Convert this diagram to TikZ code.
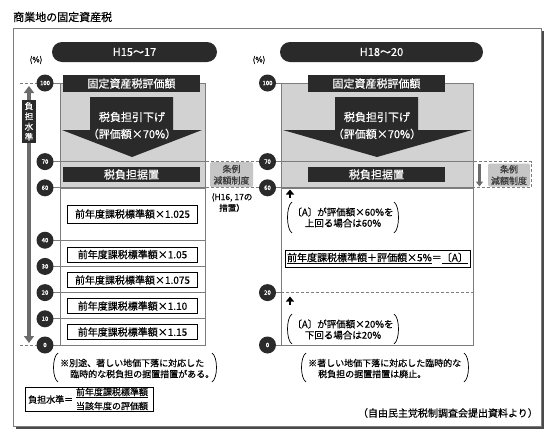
\documentclass[tikz,border=0pt]{standalone}
\usepackage{fontspec}
\setmainfont{Noto Sans CJK JP}[FakeBold=0.6]
\usetikzlibrary{arrows.meta}
\definecolor{dk}{HTML}{2A2A2A}
\definecolor{gf}{HTML}{D2D2D2}
\definecolor{fr}{HTML}{7C7C7C}
\definecolor{ag}{HTML}{6B6B6B}
\definecolor{tg}{HTML}{C6C6C6}
\definecolor{tt}{HTML}{3C3C3C}
\definecolor{sh}{HTML}{4A4A4A}
\newcommand{\jfs}[1]{\fontsize{#1}{#1}\selectfont}
\begin{document}
\begin{tikzpicture}[x=1pt,y=-1pt,
  hdr/.style={fill=dk,text=white,inner sep=0pt,minimum width=137pt,font=\jfs{11}},
  lvl/.style={circle,fill=dk,text=white,minimum size=17pt,inner sep=0pt,font=\jfs{6}},
  lvline/.style={draw=fr,line width=0.7pt},
  dline/.style={draw=fr,line width=0.7pt,dash pattern=on 3pt off 2pt},
  region/.style={draw=fr,line width=0.7pt,inner sep=0pt,anchor=north west},
  sbox/.style={draw=black,line width=0.7pt,fill=white,inner sep=0pt,minimum width=130pt,font=\jfs{10}},
  pill/.style={fill=dk,text=white,rounded corners=10pt,minimum height=20pt,inner sep=0pt,font=\jfs{11}},
  jrei/.style={fill=tg,text=tt,rounded corners=2pt,inner sep=0pt,align=center,font=\fontsize{9}{11.5}\selectfont,minimum width=42pt,minimum height=23pt},
  note/.style={inner sep=0pt,font=\jfs{9}},
  bnote/.style={inner sep=0pt,align=center,font=\fontsize{9.5}{11}\selectfont},
  paren/.style={line width=0.7pt},
  wtxt/.style={text=white,inner sep=0pt,font=\jfs{11}},
  uparrow/.style={line width=2.6pt,-{Triangle[width=8pt,length=5pt]}},
]
\useasboundingbox (0,0) rectangle (550,437);
\fill[white] (0,0) rectangle (550,437);

% frame
\fill[sh] (15.5,30.5) rectangle (543.5,428.5);
\draw[fr,fill=white,line width=0.8pt] (13,28) rectangle (541,426);

\node[anchor=west,inner sep=0pt,font=\jfs{11}] (title) at (13,17) {商業地の固定資産税};

\node[pill,minimum width=165pt] (p1) at (134.5,52) {H15～17};
\node[pill,minimum width=203pt] (p2) at (381.5,52) {H18～20};
\node[inner sep=0pt,font=\jfs{8}] (pc1) at (36,60) {(\%)};
\node[inner sep=0pt,font=\jfs{8}] (pc2) at (259,60) {(\%)};

% level coordinates
\foreach \v/\y in {100/83,70/161.6,60/187.8,40/240.2,30/266.4,20/292.6,10/318.8,0/345}
  \coordinate (ca\v) at (45,\y);
\foreach \v/\y in {100/83,70/161.6,60/187.8,20/292.6,0/345}
  \coordinate (cb\v) at (267.5,\y);

% regions
\node[region,fill=gf,minimum width=145pt,minimum height=104.8pt] (Lg) at (60,83) {};
\node[region,fill=white,minimum width=145pt,minimum height=157.2pt] (Lw) at (60,187.8) {};
\node[region,fill=gf,minimum width=192pt,minimum height=104.8pt] (Rg) at (281,83) {};
\node[region,fill=white,minimum width=192pt,minimum height=157.2pt] (Rw) at (281,187.8) {};

% level lines
\foreach \v in {100,70,60,40,30,20,10,0}
  \draw[lvline] (ca\v) -- (ca\v -| Lg.east);
\foreach \v in {100,70,60,0}
  \draw[lvline] (cb\v) -- (cb\v -| Rg.east);
\draw[lvline] (cb20) -- (cb20 -| Rw.west);
\draw[dline] (cb20 -| Rw.west) -- (cb20 -| Rw.east);

% dashed links between columns
\draw[dline] (ca70 -| Lg.east) -- (cb70);
\draw[dline] (ca60 -| Lg.east) -- (cb60);
\coordinate (dr1) at (531,161.6);
\coordinate (dr2) at (531,187.8);
\draw[dline] (cb70 -| Rg.east) -- (dr1) -- (dr2) -- (cb60 -| Rg.east);

% left level arrow
\coordinate (t1) at (20,83);
\coordinate (t2) at (20,345);
\draw[dline] (t1) -- (ca100);
\draw[dline] (t2) -- (ca0);
\coordinate (la1) at (29,86);
\coordinate (la2) at (29,343);
\draw[ag,line width=4.5pt,{Triangle[width=10pt,length=7pt]}-{Triangle[width=10pt,length=7pt]}] (la1) -- (la2);
\node[fill=dk,text=white,minimum width=14pt,minimum height=43pt,inner sep=0pt,align=center,font=\fontsize{8.5}{10.3}\selectfont] (lab) at (29,121.5) {負\\担\\水\\準};

% circles
\foreach \v in {100,70,60,40,30,20,10,0}
  \node[lvl] (a\v) at (ca\v) {\v};
\foreach \v in {100,70,60,20,0}
  \node[lvl] (b\v) at (cb\v) {\v};

% left column content
\node[hdr,minimum height=17pt] (Lh) at (131.5,83.5) {固定資産税評価額};
\fill[dk] (90,97) -- (173,97) -- (173,130) -- (202,130) -- (132,157) -- (62,130) -- (90,130) -- cycle;
\node[wtxt] (La1) at (132,117) {税負担引下げ};
\node[wtxt] (La2) at (132,134) {（評価額×70\%）};
\node[hdr,minimum height=15pt] (Lk) at (131.5,174.5) {税負担据置};

\node[sbox,minimum height=18pt] (s1) at (132.5,214) {前年度課税標準額×1.025};
\node[sbox,minimum height=15pt] (s2) at (132.5,254.5) {前年度課税標準額×1.05};
\node[sbox,minimum height=15pt] (s3) at (132.5,280) {前年度課税標準額×1.075};
\node[sbox,minimum height=15pt] (s4) at (132.5,306) {前年度課税標準額×1.10};
\node[sbox,minimum height=15pt] (s5) at (132.5,332) {前年度課税標準額×1.15};

\node[jrei,minimum height=25pt,minimum width=43pt] (Lj) at (231.5,174.7) {条例\\減額制度};
\node[inner sep=0pt,align=center,font=\fontsize{8.5}{11}\selectfont] (Lh16) at (232,202.5) {(H16, 17の\\措置）};

% right column content
\node[hdr,minimum height=17pt] (Rh) at (376.5,83.5) {固定資産税評価額};
\fill[dk] (335,97) -- (418,97) -- (418,130) -- (472,130) -- (377,157) -- (283,130) -- (335,130) -- cycle;
\node[wtxt] (Ra1) at (377,117) {税負担引下げ};
\node[wtxt] (Ra2) at (377,134) {（評価額×70\%）};
\node[hdr,minimum height=15pt] (Rk) at (376.5,174.5) {税負担据置};

\coordinate (ra1) at (479.5,164);
\coordinate (ra2) at (479.5,186.5);
\draw[ag,line width=3pt,-{Triangle[width=7pt,length=5pt]}] (ra1) -- (ra2);
\node[jrei] (Rj) at (509,175) {条例\\減額制度};

\coordinate (ua1) at (290,198);
\coordinate (ua2) at (290,189.5);
\draw[uparrow] (ua1) -- (ua2);
\coordinate (ub1) at (290,305);
\coordinate (ub2) at (290,296.5);
\draw[uparrow] (ub1) -- (ub2);

\node[bnote] (Rn1) at (343,217.5) {〔A〕が評価額×60\%を\\上回る場合は60\%};
\draw[paren] (292,202) .. controls (286,206) and (286,229) .. (292,233);
\draw[paren] (394,202) .. controls (400,206) and (400,229) .. (394,233);

\node[draw=black,line width=0.7pt,minimum width=185pt,minimum height=17pt,inner sep=0pt,font=\jfs{10}] (Rf) at (377.5,258.5) {\underline{前年度課税標準額＋評価額×5\%}＝\underline{〔A〕}};

\node[bnote] (Rn2) at (343,329.5) {〔A〕が評価額×20\%を\\下回る場合は20\%};
\draw[paren] (292,314) .. controls (286,318) and (286,340) .. (292,344);
\draw[paren] (394,314) .. controls (400,318) and (400,340) .. (394,344);

% bottom notes
\node[note,anchor=west] (Ln1) at (60,363) {※別途、著しい地価下落に対応した};
\node[note,anchor=west] (Ln2) at (70,374) {臨時的な税負担の据置措置がある。};
\draw[paren] (58,353) .. controls (52,357) and (52,378) .. (58,382);
\draw[paren] (212,353) .. controls (218,357) and (218,378) .. (212,382);

\node[note,anchor=west] (Rn3) at (308,363) {※著しい地価下落に対応した臨時的な};
\node[note,anchor=west] (Rn4) at (318,374) {税負担の据置措置は廃止。};
\draw[paren] (306,353) .. controls (300,357) and (300,378) .. (306,382);
\draw[paren] (464,353) .. controls (470,357) and (470,378) .. (464,382);

\node[draw=black,line width=0.7pt,minimum width=128pt,minimum height=24pt,inner sep=0pt] (fb) at (89,399) {};
\node[note,anchor=west] (fb1) at (28,399.5) {負担水準＝};
\node[note] (fb2) at (112,393) {\underline{前年度課税標準額}};
\node[note] (fb3) at (112,406) {当該年度の評価額};

\node[inner sep=0pt,anchor=east,font=\jfs{10}] (src) at (538,413) {（自由民主党税制調査会提出資料より）};
\end{tikzpicture}
\end{document}
